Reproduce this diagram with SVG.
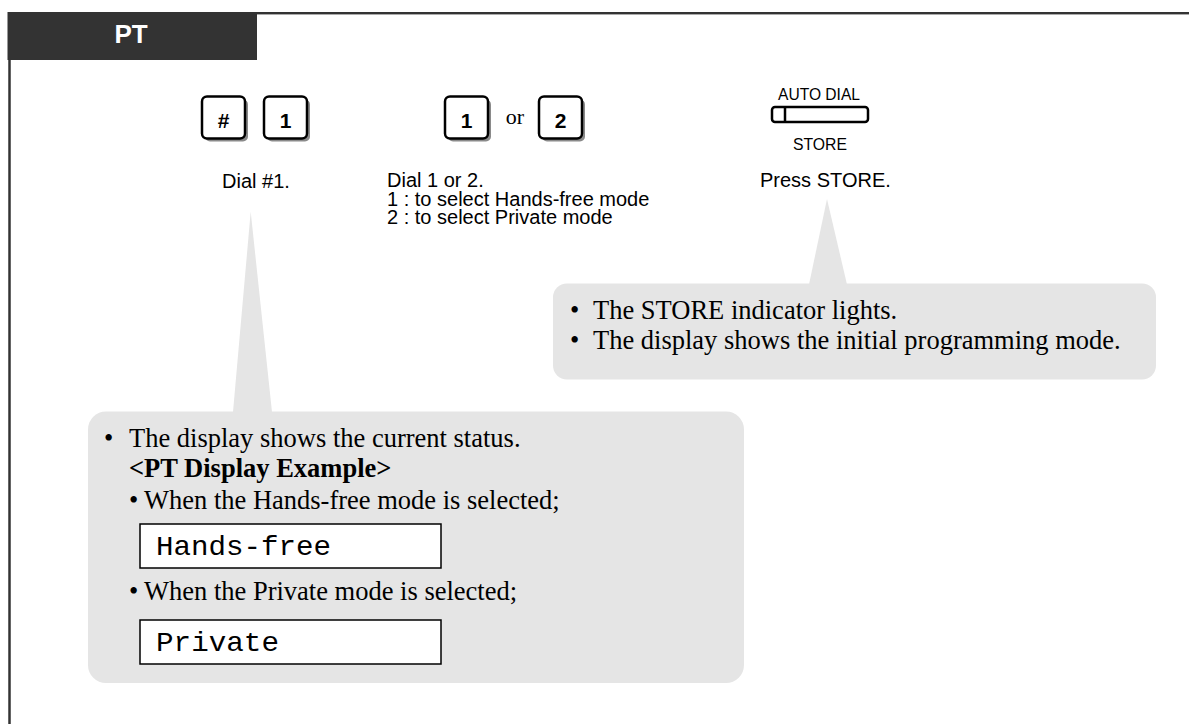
<svg xmlns="http://www.w3.org/2000/svg" width="1189" height="724" viewBox="0 0 1189 724">
<style>
.lbl{font-family:"Liberation Sans",Arial,sans-serif;font-size:20px;fill:#000}
.key{fill:#fff;stroke:#000;stroke-width:2.5}
.shadow{fill:#8a8a8a}
.keytxt{font-family:"Liberation Sans",Arial,sans-serif;font-size:21px;font-weight:bold;text-anchor:middle;fill:#000}
.bub{fill:#e5e5e5}
.tm{font-family:"Liberation Serif","Times New Roman",serif;font-size:26.5px;fill:#000}
.mono{font-family:"Liberation Mono","Courier New",monospace;font-size:28px;fill:#000}
.disp{fill:#fff;stroke:#000;stroke-width:1.5}
.small{font-family:"Liberation Sans",Arial,sans-serif;font-size:17px;fill:#000}
</style>
<rect x="0" y="0" width="1189" height="724" fill="#fff"/>
<g id="frame">
<line x1="8" y1="13" x2="1189" y2="13" stroke="#333" stroke-width="2"/>
<line x1="257" y1="14.5" x2="1189" y2="14.5" stroke="#aaa" stroke-width="1"/>
<line x1="9.5" y1="60" x2="9.5" y2="724" stroke="#333" stroke-width="2.5"/>
<rect x="7.5" y="12" width="249.5" height="48" fill="#333"/>
<text x="131" y="43" font-family="Liberation Sans,Arial,sans-serif" font-size="26" font-weight="bold" fill="#fff" text-anchor="middle">PT</text>
</g>
<g id="keys-hash1">
<rect class="shadow" x="205" y="99.5" width="43" height="42" rx="5"/>
<rect class="key" x="202" y="96.5" width="43" height="42" rx="5"/>
<text class="keytxt" x="223.5" y="127.5">#</text>
<rect class="shadow" x="267" y="99.5" width="43" height="42" rx="5"/>
<rect class="key" x="264" y="96.5" width="43" height="42" rx="5"/>
<text class="keytxt" x="285.5" y="127.5">1</text>
</g>
<g id="keys-1or2">
<rect class="shadow" x="448" y="99.5" width="43" height="42" rx="5"/>
<rect class="key" x="445" y="96.5" width="43" height="42" rx="5"/>
<text class="keytxt" x="466.5" y="127.5">1</text>
<text x="515" y="124" font-family="Liberation Serif,Times New Roman,serif" font-size="22" text-anchor="middle">or</text>
<rect class="shadow" x="542" y="99.5" width="43" height="42" rx="5"/>
<rect class="key" x="539" y="96.5" width="43" height="42" rx="5"/>
<text class="keytxt" x="560.5" y="127.5">2</text>
</g>
<g id="store-button">
<text class="small" x="778" y="100" textLength="82" lengthAdjust="spacingAndGlyphs">AUTO DIAL</text>
<rect x="772" y="107" width="96" height="15" rx="3" fill="#fff" stroke="#000" stroke-width="2.5"/>
<line x1="785" y1="107" x2="785" y2="122" stroke="#000" stroke-width="2.5"/>
<text class="small" x="793" y="150" textLength="54" lengthAdjust="spacingAndGlyphs">STORE</text>
</g>
<g id="labels">
<text class="lbl" x="222" y="188">Dial #1.</text>
<text class="lbl" x="387" y="187">Dial 1 or 2.</text>
<text class="lbl" x="387" y="205.5">1 : to select Hands-free mode</text>
<text class="lbl" x="387" y="224">2 : to select Private mode</text>
<text class="lbl" x="760" y="187">Press STORE.</text>
</g>
<g id="bubble-store">
<polygon class="bub" points="827,199 809,284.5 847,284.5"/>
<rect class="bub" x="553" y="283.5" width="603" height="96" rx="14"/>
<text class="tm" x="570" y="319">•</text>
<text class="tm" x="593" y="319">The STORE indicator lights.</text>
<text class="tm" x="570" y="349">•</text>
<text class="tm" x="593" y="349">The display shows the initial programming mode.</text>
</g>
<g id="bubble-display">
<polygon class="bub" points="250.7,211.7 233,412 272,412"/>
<rect class="bub" x="88" y="411.5" width="656" height="271.5" rx="18"/>
<text class="tm" x="104" y="447">•</text>
<text class="tm" x="129" y="447">The display shows the current status.</text>
<text class="tm" x="129" y="477" font-weight="bold">&lt;PT Display Example&gt;</text>
<text class="tm" x="129" y="509">•</text>
<text class="tm" x="144" y="509">When the Hands-free mode is selected;</text>
<rect class="disp" x="140" y="524" width="301" height="44"/>
<text class="mono" x="156" y="555" textLength="175" lengthAdjust="spacingAndGlyphs">Hands-free</text>
<text class="tm" x="129" y="600">•</text>
<text class="tm" x="144" y="600">When the Private mode is selected;</text>
<rect class="disp" x="140" y="620" width="301" height="44"/>
<text class="mono" x="156" y="651" textLength="123" lengthAdjust="spacingAndGlyphs">Private</text>
</g>
</svg>
